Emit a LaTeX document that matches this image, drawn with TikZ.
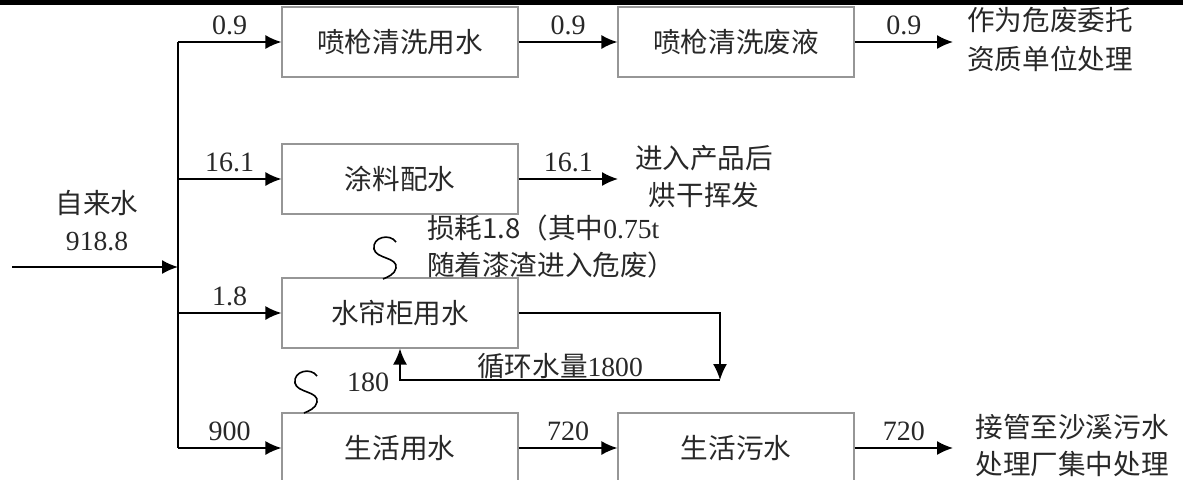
\documentclass[tikz,border=0pt]{standalone}
\usepackage{fontspec}
\setmainfont{Liberation Serif}
\newfontfamily\cjk{Noto Sans CJK SC}
\usepackage{tikz}
\usetikzlibrary{arrows.meta,calc}
\usepackage{xcolor}
\definecolor{boxgray}{RGB}{150,150,150}
\definecolor{inkgray}{RGB}{40,40,40}
\newcommand{\cjkfs}{\cjk\fontsize{13.8}{18.5}\selectfont}

\begin{document}
\begin{tikzpicture}[x=0.5pt,y=-0.5pt, every node/.style={font=\fontsize{14}{18.5}\selectfont,text=inkgray}, flowbox/.style={draw=boxgray,line width=0.6pt,minimum width=118pt,minimum height=35pt,inner sep=0pt,font=\cjkfs}, note/.style={font=\cjkfs,align=center}, flow/.style={-{Latex[length=8pt,width=7pt]},line width=0.8pt}, wig/.style={line width=0.8pt}]
\fill[white] (0,0) rectangle (1183,479);
\useasboundingbox (0,0) rectangle (1183,479);
\fill[black] (0,0) rectangle (1183,5);
% boxes
\node[flowbox] (pqys) at (400,42) {喷枪清洗用水};
\node[flowbox] (pqfy) at (736,42) {喷枪清洗废液};
\node[flowbox] (tlps) at (400,179) {涂料配水};
\node[flowbox] (slgs) at (400,313) {水帘柜用水};
\node[flowbox] (shys) at (400,448) {生活用水};
\node[flowbox] (shws) at (736,448) {生活污水};
% points
\coordinate (src) at (12,267);
\coordinate (bus) at (178,267);
\coordinate (out1) at (953,42);
\coordinate (out2) at (618,179);
\coordinate (out4) at (953,448);
\coordinate (rc) at (720,380);
\coordinate (w1) at (383,279);
\coordinate (w2) at (304,413);
% texts
\node[note] (srclbl) at (97,221) {自来水\\{\rmfamily 918.8}};
\node[note] (dest1) at (1050,39) {作为危废委托\\[1pt]资质单位处理};
\node[note] (dest2) at (704,177) {进入产品后\\烘干挥发};
\node[note] (dest4) at (1072,445) {接管至沙溪污水\\处理厂集中处理};
\node[note,align=left,anchor=west] (loss) at (420,246) {损耗1.8（其中{\rmfamily 0.75t}\\随着漆渣进入危废）};
\node[note] (circ) at (560,366) {循环水量{\rmfamily 1800}};
\node (evap) at (368,382) {180};
% bus and branches
\draw[flow] (src) -- (bus);
\draw[line width=0.8pt] (pqys.west -| bus) -- (shys.west -| bus);
\draw[flow] (pqys.west -| bus) -- (pqys.west) node[midway,above] {0.9};
\draw[flow] (tlps.west -| bus) -- (tlps.west) node[midway,above] {16.1};
\draw[flow] (slgs.west -| bus) -- (slgs.west) node[midway,above] {1.8};
\draw[flow] (shys.west -| bus) -- (shys.west) node[midway,above] {900};
% outflows
\draw[flow] (pqys) -- (pqfy) node[midway,above] {0.9};
\draw[flow] (pqfy) -- (out1) node[midway,above] {0.9};
\draw[flow] (tlps) -- (out2) node[midway,above] {16.1};
\draw[flow] (shys) -- (shws) node[midway,above] {720};
\draw[flow] (shws) -- (out4) node[midway,above] {720};
% recirculation
\draw[flow] (slgs.east) -| (rc);
\draw[flow] (rc) -| (slgs.south);
% losses
\foreach \w in {w1,w2}{\draw[wig,shift={(\w)}] (0,0) .. controls (5,-2) and (12,-5) .. (13,-11) .. controls (15,-22) and (-7,-20) .. (-9,-30) .. controls (-11,-42) and (7,-46) .. (13,-37);}
\end{tikzpicture}
\end{document}
